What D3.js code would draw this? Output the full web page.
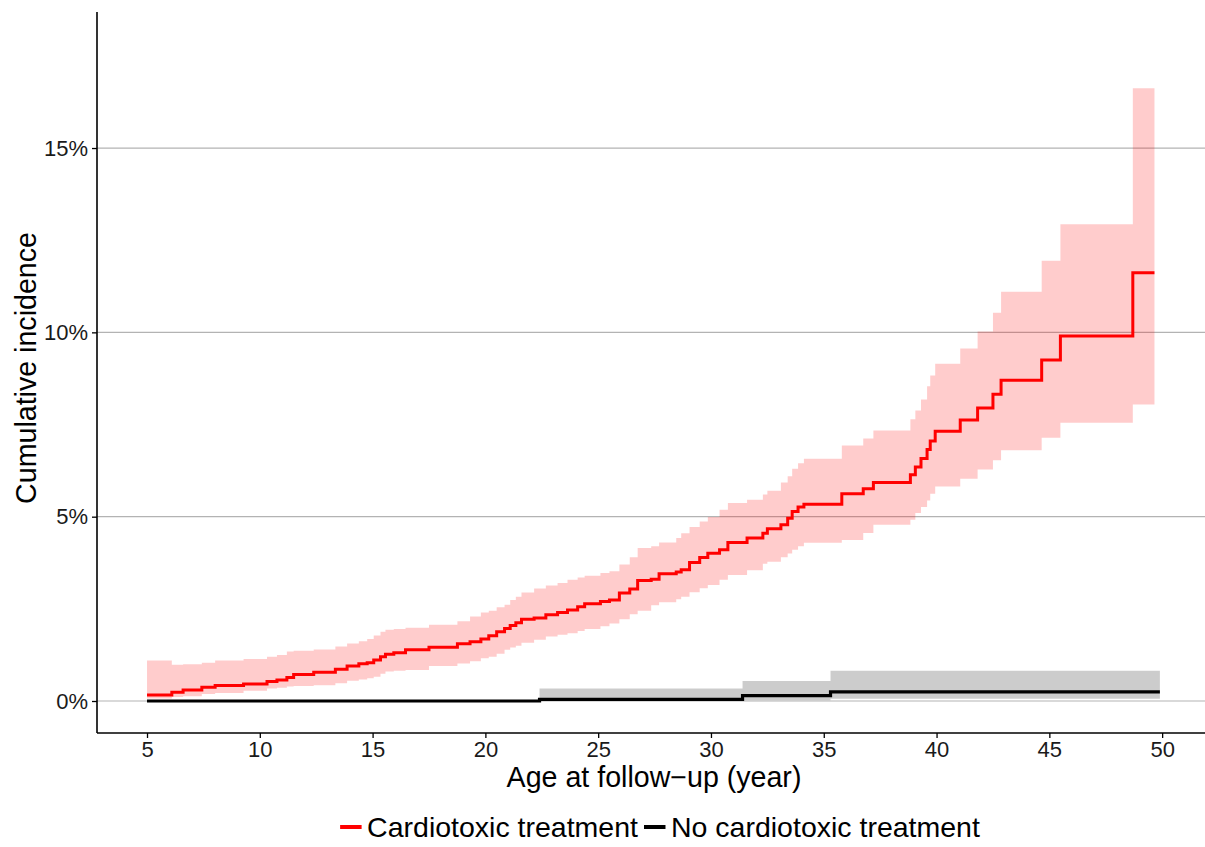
<!DOCTYPE html>
<html>
<head>
<meta charset="utf-8">
<script src="https://cdn.jsdelivr.net/npm/d3@7"></script>
<style>
  body { margin: 0; background: #fff; }
  svg { display: block; font-family: "Liberation Sans", Arial, sans-serif; }
</style>
</head>
<body>
<svg id="chart" width="1205" height="847"></svg>
<script>
// Cumulative incidence (%) by age, cardiotoxic treatment group
const cardioAge   = [5.0, 6.1, 6.6, 7.43, 8.02, 9.28, 10.32, 10.76, 11.2, 11.5, 12.39, 13.35, 13.87, 14.39, 14.76, 15.05, 15.35, 15.57, 15.94, 16.46, 17.5, 18.76, 19.32, 19.8, 20.15, 20.5, 20.85, 21.1, 21.35, 21.6, 22.16, 22.68, 23.2, 23.64, 24.09, 24.4, 25.1, 25.5, 25.94, 26.4, 26.75, 27.35, 27.7, 28.46, 28.68, 29.05, 29.5, 29.86, 30.38, 30.75, 31.6, 32.3, 32.5, 33.1, 33.4, 33.6, 33.86, 34.12, 35.8, 36.75, 37.2, 38.84, 39.06, 39.31, 39.58, 39.72, 39.94, 41.05, 41.82, 42.5, 42.86, 44.66, 45.49, 48.7, 49.66];
const cardioEst   = [0.16, 0.24, 0.30, 0.37, 0.42, 0.46, 0.53, 0.57, 0.64, 0.72, 0.78, 0.86, 0.95, 1.01, 1.04, 1.11, 1.20, 1.27, 1.31, 1.39, 1.46, 1.55, 1.61, 1.68, 1.77, 1.88, 1.97, 2.05, 2.12, 2.22, 2.25, 2.34, 2.40, 2.47, 2.56, 2.64, 2.70, 2.74, 2.93, 3.04, 3.27, 3.30, 3.45, 3.50, 3.56, 3.76, 3.89, 4.01, 4.10, 4.30, 4.42, 4.55, 4.67, 4.78, 4.96, 5.14, 5.26, 5.34, 5.62, 5.76, 5.93, 6.14, 6.35, 6.58, 6.82, 7.05, 7.32, 7.62, 7.95, 8.32, 8.70, 9.25, 9.90, 11.62, 11.62];
const cardioLower = [0.07, 0.11, 0.13, 0.19, 0.22, 0.28, 0.34, 0.36, 0.39, 0.41, 0.43, 0.48, 0.55, 0.58, 0.62, 0.66, 0.74, 0.80, 0.82, 0.84, 0.95, 1.02, 1.08, 1.16, 1.20, 1.28, 1.39, 1.45, 1.50, 1.58, 1.66, 1.75, 1.80, 1.84, 1.90, 1.95, 2.03, 2.10, 2.22, 2.35, 2.45, 2.60, 2.68, 2.76, 2.83, 2.95, 3.06, 3.15, 3.29, 3.42, 3.55, 3.72, 3.78, 3.90, 4.00, 4.10, 4.20, 4.29, 4.37, 4.56, 4.78, 4.92, 5.10, 5.26, 5.44, 5.62, 5.82, 6.03, 6.28, 6.53, 6.80, 7.14, 7.55, 8.04, 8.04];
const cardioUpper = [1.10, 0.98, 1.00, 1.04, 1.10, 1.14, 1.20, 1.25, 1.34, 1.36, 1.40, 1.48, 1.56, 1.62, 1.68, 1.78, 1.88, 1.93, 1.95, 1.99, 2.07, 2.16, 2.29, 2.40, 2.45, 2.54, 2.61, 2.74, 2.83, 2.94, 3.05, 3.13, 3.20, 3.29, 3.35, 3.40, 3.47, 3.52, 3.70, 3.90, 4.15, 4.20, 4.30, 4.42, 4.55, 4.72, 4.87, 4.99, 5.19, 5.37, 5.46, 5.60, 5.70, 5.93, 6.10, 6.30, 6.45, 6.57, 6.93, 7.12, 7.34, 7.64, 7.88, 8.18, 8.54, 8.83, 9.15, 9.56, 10.02, 10.53, 11.10, 11.94, 12.93, 16.62, 16.62];

// No cardiotoxic treatment group
const noCardioAge   = [5.0, 22.4, 31.4, 35.3, 49.9];
const noCardioEst   = [0.0, 0.045, 0.145, 0.245, 0.245];
const noCardioLower = [0.0, 0.0, 0.02, 0.06, 0.06];
const noCardioUpper = [0.0, 0.34, 0.54, 0.82, 0.82];

const xTicks = [5, 10, 15, 20, 25, 30, 35, 40, 45, 50];
const yTicks = [0, 5, 10, 15];
const legendLabels = ['Cardiotoxic treatment', 'No cardiotoxic treatment'];

const groups = [
    {age: cardioAge, est: cardioEst, lo: cardioLower, hi: cardioUpper, color: '#ff0000', width: 3},
    {age: noCardioAge, est: noCardioEst, lo: noCardioLower, hi: noCardioUpper, color: '#000000', width: 3.2}
];

const svg = d3.select('#chart');
const margin = {left: 97, right: 1205, top: 12, bottom: 733};

const x = d3.scaleLinear().domain([2.783, 51.9]).range([margin.left, margin.right]);
const y = d3.scaleLinear().domain([-0.868, 18.69]).range([margin.bottom, margin.top]);

// horizontal grid lines
svg.append('g')
    .selectAll('line')
    .data(yTicks)
    .enter()
    .append('line')
    .attr('x1', margin.left).attr('x2', margin.right)
    .attr('y1', d => y(d)).attr('y2', d => y(d))
    .attr('stroke', '#b3b3b3')
    .attr('stroke-width', 1.2);

// confidence ribbons
const area = d3.area()
    .x(d => x(d.age))
    .y0(d => y(d.lo))
    .y1(d => y(d.hi))
    .curve(d3.curveStepAfter);

const line = d3.line()
    .x(d => x(d.age))
    .y(d => y(d.est))
    .curve(d3.curveStepAfter);

groups.forEach(g => {
    g.rows = g.age.map((a, i) => ({age: a, est: g.est[i], lo: g.lo[i], hi: g.hi[i]}));
    svg.append('path')
        .datum(g.rows)
        .attr('d', area)
        .attr('fill', g.color)
        .attr('fill-opacity', 0.2);
});

groups.forEach(g => {
    svg.append('path')
        .datum(g.rows)
        .attr('d', line)
        .attr('fill', 'none')
        .attr('stroke', g.color)
        .attr('stroke-width', g.width);
});

// axes
const xAxis = svg.append('g')
    .attr('transform', `translate(0,${margin.bottom})`)
    .call(d3.axisBottom(x).tickValues(xTicks).tickSize(5).tickPadding(5));
const yAxis = svg.append('g')
    .attr('transform', `translate(${margin.left},0)`)
    .call(d3.axisLeft(y).tickValues(yTicks).tickSize(5).tickPadding(4).tickFormat(d => d + '%'));

[xAxis, yAxis].forEach(a => {
    a.select('.domain').attr('stroke', '#000').attr('stroke-width', 1.6);
    a.selectAll('.tick line').attr('stroke', '#000').attr('stroke-width', 1.3);
    a.selectAll('.tick text')
        .attr('fill', '#1a1a1a')
        .style('font-size', '22px')
        .style('font-family', '"Liberation Sans", Arial, sans-serif');
});
xAxis.select('.domain').attr('d', `M${margin.left},0H${margin.right}`);
yAxis.select('.domain').attr('d', `M0,${margin.top}V${margin.bottom}`);
xAxis.selectAll('.tick text').attr('dy', '0.71em').attr('y', 8);

// axis titles
svg.append('text')
    .attr('x', 654)
    .attr('y', 787)
    .attr('text-anchor', 'middle')
    .style('font-size', '28.6px')
    .attr('fill', '#000')
    .text('Age at follow\u2212up (year)');

svg.append('text')
    .attr('transform', 'translate(36,368) rotate(-90)')
    .attr('text-anchor', 'middle')
    .style('font-size', '28.6px')
    .attr('fill', '#000')
    .text('Cumulative incidence');

// legend
const legend = svg.append('g');
let cursor = 0;
legendLabels.forEach((lab, i) => {
    const item = legend.append('g').attr('transform', `translate(${cursor},0)`);
    item.append('line')
        .attr('x1', 0).attr('x2', 21.5)
        .attr('y1', 0).attr('y2', 0)
        .attr('stroke', groups[i].color)
        .attr('stroke-width', 4);
    const t = item.append('text')
        .attr('x', 27)
        .attr('y', 9.5)
        .style('font-size', '28.5px')
        .attr('fill', '#000')
        .text(lab);
    cursor += 27 + t.node().getComputedTextLength() + 6;
});
const legendWidth = cursor - 6;
legend.attr('transform', `translate(${660 - legendWidth / 2},827)`);
</script>
</body>
</html>
